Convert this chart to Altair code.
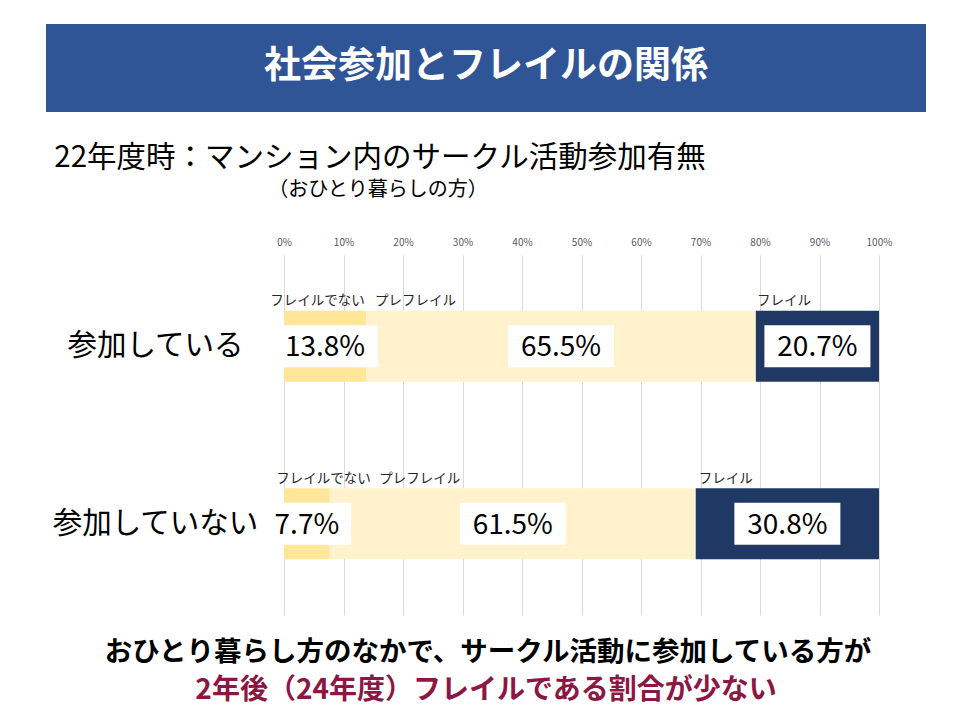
import altair as alt
import pandas as pd

# ---- data ----
groups = ["参加している", "参加していない"]
categories = ["フレイルでない", "プレフレイル", "フレイル"]
values_join = [13.8, 65.5, 20.7]
values_nojoin = [7.7, 61.5, 30.8]
colors = ["#FFE699", "#FFF2CC", "#203864"]
tick_values = [0, 10, 20, 30, 40, 50, 60, 70, 80, 90, 100]

# annotation (category name) positions above each bar, in % of axis
ann_x_join = [-2.3, 15.3, 79.5]
ann_x_nojoin = [-1.3, 16.0, 69.7]

title_text = "社会参加とフレイルの関係"
subtitle1 = "22年度時：マンション内のサークル活動参加有無"
subtitle2 = "（おひとり暮らしの方）"
bottom1 = "おひとり暮らし方のなかで、サークル活動に参加している方が"
bottom2 = "2年後（24年度）フレイルである割合が少ない"

FONT = "Noto Sans CJK JP"

rows = []
for g, vals, ann in [(groups[0], values_join, ann_x_join), (groups[1], values_nojoin, ann_x_nojoin)]:
    start = 0.0
    for i, (c, v) in enumerate(zip(categories, vals)):
        end = start + v
        label = f"{v:.1f}%"
        half = (18 * len(label) + 16) / 2 / 5.95
        mid = (start + end) / 2
        rows.append(dict(group=g, cat=c, order=i, value=v, start=start, end=end,
                         mid=mid, label=label, box_l=mid - half, box_r=mid + half,
                         ann_x=ann[i]))
        start = end
df = pd.DataFrame(rows)

yscale = alt.Scale(paddingInner=0.6, paddingOuter=0.314)
yaxis = alt.Axis(title=None, domain=False, ticks=False, tickSize=0,
                 labelFont=FONT, labelFontSize=29.5, labelColor="#000000",
                 labelAlign="center", labelBaseline="middle", labelLimit=400,
                 labelPadding=129, grid=False)
xscale = alt.Scale(domain=[0, 100], nice=False, zero=False)
xaxis = alt.Axis(orient="top", title=None, values=tick_values,
                 labelExpr="datum.value + '%'", domain=False, ticks=False,
                 labelFlush=False, labelOverlap=False,
                 labelFont=FONT, labelFontSize=10, labelColor="#595959",
                 labelPadding=8, grid=True, gridColor="#D9D9D9", gridWidth=1)


def Y():
    return alt.Y("group:N", sort=groups, scale=yscale, axis=yaxis)


def X(f):
    return alt.X(f, scale=xscale, axis=xaxis)


base = alt.Chart(df)

bars = base.mark_bar().encode(
    x=X("start:Q"),
    x2="end:Q",
    y=Y(),
    color=alt.Color("cat:N", scale=alt.Scale(domain=categories, range=colors), legend=None),
)

boxes = base.mark_bar(size=42, color="white").encode(
    x=X("box_l:Q"),
    x2="box_r:Q",
    y=Y(),
)

labels = base.mark_text(font=FONT, fontSize=28, color="black", baseline="middle",
                        align="center", dy=2).encode(
    x=X("mid:Q"),
    y=Y(),
    text="label:N",
)

anns = base.mark_text(font=FONT, fontSize=13.5, color="#262626", baseline="middle",
                      align="left", dy=-45).encode(
    x=X("ann_x:Q"),
    y=Y(),
    text="cat:N",
)

one = pd.DataFrame({"k": [0]})
header = alt.Chart(one).mark_rect(color="#2F5597").encode(
    x=alt.value(-238), x2=alt.value(642), y=alt.value(-231), y2=alt.value(-143))


def txt(s, x, y, size, color="black", weight="normal"):
    return alt.Chart(pd.DataFrame({"t": [s]})).mark_text(
        font=FONT, fontSize=size, color=color, fontWeight=weight,
        align="center", baseline="middle").encode(
        text="t:N", x=alt.value(x), y=alt.value(y))


title = txt(title_text, 202, -188, 37, "white", "bold")
sub1 = txt(subtitle1, 96, -97, 29.5)
sub2 = txt(subtitle2, 94, -65, 20)
bot1 = txt(bottom1, 204, 398, 27.5, "black", "bold")
bot2 = txt(bottom2, 202, 436, 28, "#8B1744", "bold")

chart = alt.layer(bars, boxes, labels, anns, header, title, sub1, sub2, bot1, bot2).properties(
    width=595, height=360,
    autosize=alt.AutoSizeParams(type="none"),
    padding={"left": 276, "top": 247, "right": 73, "bottom": 97},
    background="white",
).configure_view(stroke=None)

chart.save("out.html", embed_options={"renderer": "svg", "actions": False})
